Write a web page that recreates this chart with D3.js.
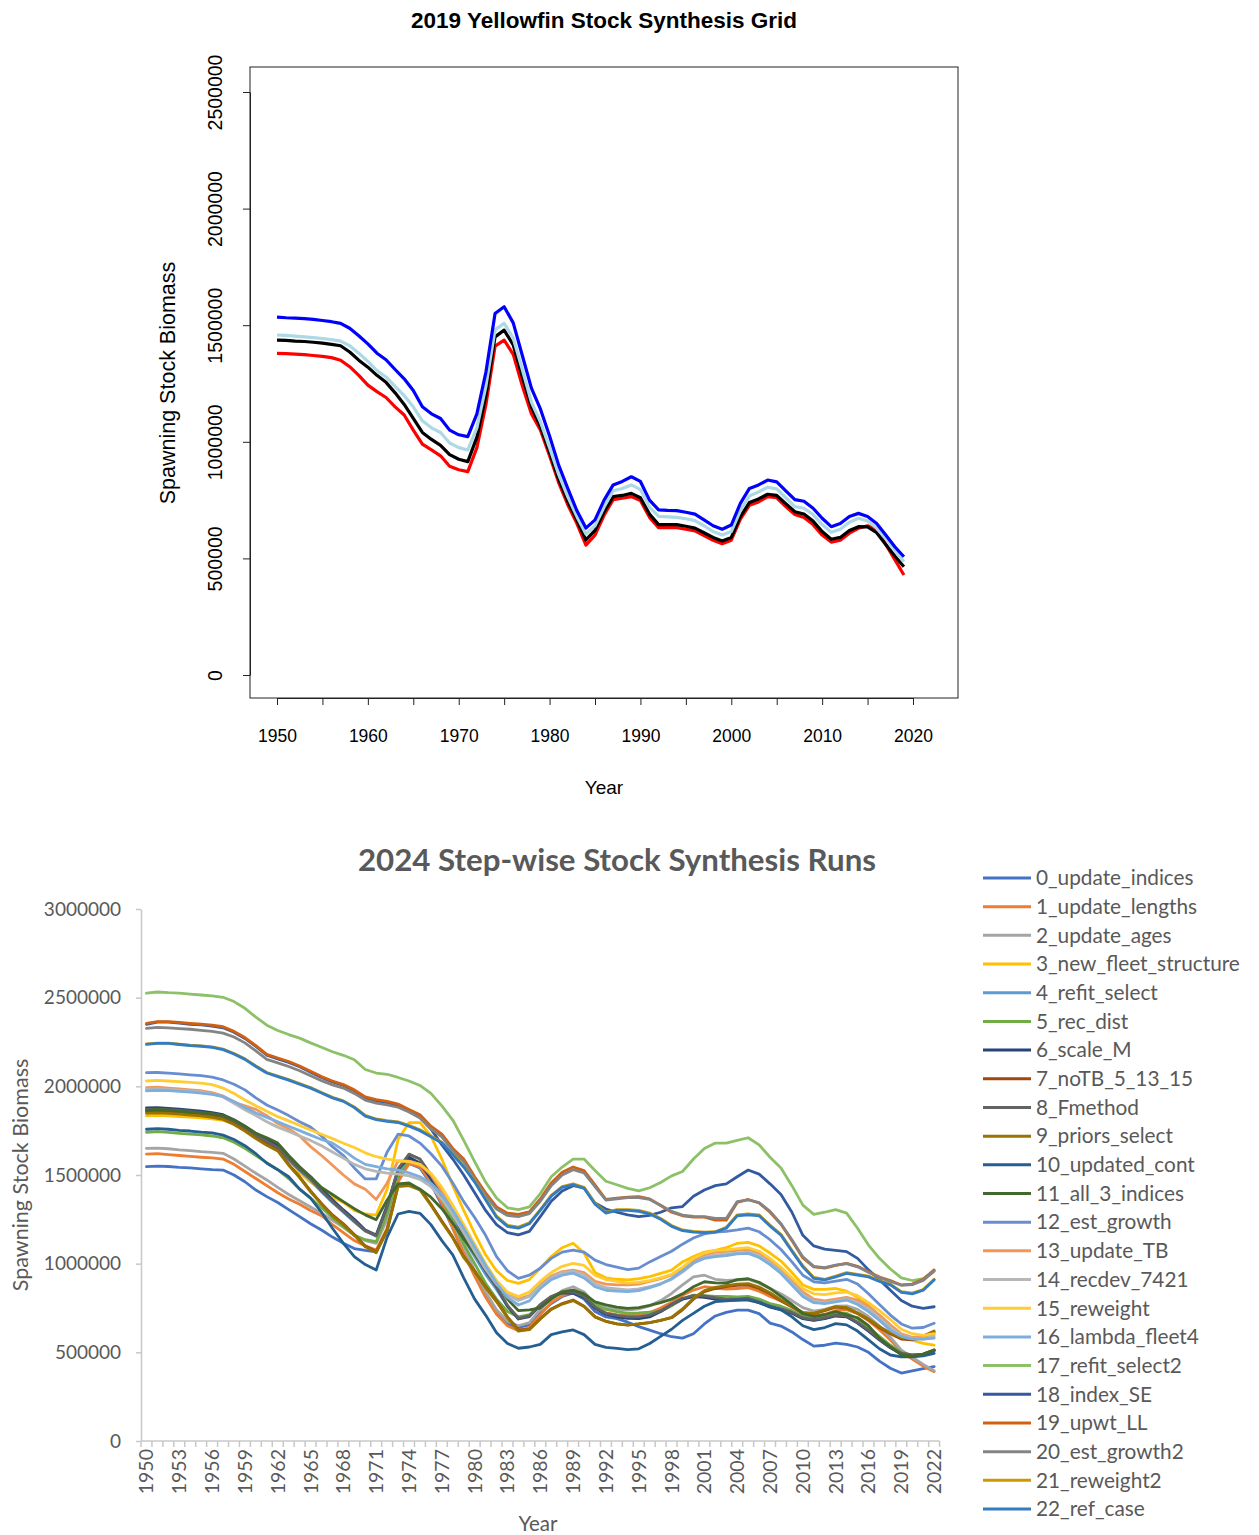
<!DOCTYPE html>
<html><head><meta charset="utf-8">
<script src="https://cdn.jsdelivr.net/npm/d3@7"></script>
<style>body{margin:0;background:#fff}svg{display:block}</style>
</head><body>
<svg id="c" width="1259" height="1535"></svg>
<script>
// ================= DATA =================
// --- 2019 grid (values in thousands), years 1950..2019
const topStartYear = 1950;
const grid2019_blue = [
1535,1532,1530,1528,1525,1520,1515,1508,1487,1455,
1420,1380,1352,1310,1270,1220,1150,1120,1100,1050,
1030,1022,1120,1300,1550,1579,1510,1370,1230,1140,
1025,900,800,705,630,665,750,815,830,850,
830,750,708,706,705,698,690,665,640,625,
643,736,800,815,836,828,790,752,745,715,
672,636,650,680,693,680,650,600,550,507];
const grid2019_lightblue = [
1458,1456,1453,1450,1447,1443,1438,1432,1412,1380,
1345,1305,1278,1238,1198,1150,1090,1060,1040,995,
975,965,1060,1240,1480,1508,1445,1310,1170,1085,
975,860,765,680,605,640,720,790,800,815,
795,720,680,678,676,670,662,640,615,600,
615,705,768,785,805,798,760,722,715,688,
645,612,625,655,672,660,630,585,535,486];
const grid2019_black = [
1436,1435,1432,1430,1427,1423,1418,1412,1385,1350,
1320,1285,1255,1210,1160,1100,1040,1010,985,945,
925,915,1020,1200,1450,1479,1415,1280,1150,1065,
955,840,745,665,579,620,700,765,770,779,
760,690,645,645,645,638,630,610,590,575,
590,680,740,755,775,770,735,700,690,660,
615,582,590,620,636,635,610,560,510,464];
const grid2019_red = [
1379,1378,1376,1374,1370,1366,1361,1350,1322,1285,
1243,1215,1190,1150,1115,1050,990,965,940,895,
880,872,975,1160,1410,1436,1375,1240,1120,1050,
940,825,730,650,557,600,685,752,758,765,
748,676,632,632,632,625,618,598,578,563,
578,668,728,742,765,760,722,688,675,645,
600,570,578,608,629,640,625,560,495,429];
const topYTicks = [0,500000,1000000,1500000,2000000,2500000];
const topXTicks = [1950,1955,1960,1965,1970,1975,1980,1985,1990,1995,2000,2005,2010,2015,2020];

// --- 2024 step-wise runs (values in thousands), years 1950..2022
const bottomYears = d3.range(1950, 2023);
const run0_update_indices = [
1547,1550,1548,1543,1540,1535,1530,1528,1500,1462,
1415,1378,1345,1305,1265,1225,1190,1150,1115,1085,
1075,1067,1190,1480,1565,1540,1450,1330,1200,1060,
940,820,720,660,640,655,720,775,815,835,
800,730,700,690,670,645,625,605,588,580,
605,660,705,725,738,738,718,665,648,615,
572,535,540,552,545,530,500,450,410,383,
395,408,419];
const run1_update_lengths = [
1618,1620,1615,1610,1605,1600,1596,1590,1560,1520,
1480,1440,1400,1365,1335,1300,1270,1220,1175,1130,
1100,1077,1200,1460,1565,1545,1460,1340,1200,1060,
930,810,715,650,622,640,712,780,820,842,
815,760,722,712,710,712,725,750,782,822,
851,870,862,856,860,865,845,815,790,760,
722,705,715,735,740,718,678,628,570,505,
462,422,391];
const run2_update_ages = [
1650,1652,1648,1642,1638,1632,1628,1622,1590,1550,
1510,1472,1430,1390,1355,1320,1284,1245,1205,1160,
1130,1115,1250,1510,1612,1590,1500,1380,1240,1100,
960,840,740,675,650,668,742,802,848,870,
840,775,752,742,738,745,762,792,832,880,
925,935,912,905,908,912,890,860,830,792,
752,732,742,760,762,742,702,648,585,512,
472,432,396];
const run3_new_fleet_structure = [
1833,1836,1834,1830,1826,1822,1816,1808,1790,1760,
1725,1690,1660,1590,1515,1460,1415,1375,1345,1300,
1280,1274,1420,1700,1795,1795,1720,1590,1440,1300,
1170,1050,960,905,889,910,974,1040,1090,1115,
1060,950,920,912,908,915,927,945,964,1010,
1040,1065,1075,1090,1115,1120,1100,1060,1015,950,
880,855,855,860,845,810,765,705,650,600,
568,550,541];
const run4_refit_select = [
1862,1865,1861,1856,1850,1845,1838,1826,1798,1762,
1718,1678,1650,1585,1525,1470,1405,1345,1290,1235,
1185,1155,1310,1515,1595,1570,1480,1365,1260,1140,
1040,940,855,760,695,705,765,812,838,838,
812,752,718,705,698,698,708,732,768,802,
818,815,806,798,798,802,782,758,742,722,
692,682,692,708,702,668,622,572,528,492,
482,488,510];
const run5_rec_dist = [
1741,1745,1740,1735,1730,1726,1720,1710,1685,1650,
1610,1570,1530,1480,1420,1370,1315,1260,1210,1160,
1135,1124,1280,1500,1590,1570,1485,1365,1240,1110,
1000,890,800,730,700,712,765,812,842,850,
825,770,742,730,720,722,726,730,762,800,
823,820,815,815,812,815,800,775,760,735,
705,690,700,720,720,690,640,590,540,500,
485,490,515];
const run6_scale_M = [
1878,1880,1876,1872,1866,1860,1852,1840,1812,1775,
1735,1700,1669,1600,1540,1490,1420,1360,1303,1250,
1190,1162,1330,1530,1600,1565,1480,1380,1284,1160,
1060,960,870,760,688,702,765,812,835,833,
810,750,715,700,692,690,700,730,770,800,
814,810,800,795,795,800,780,755,740,720,
690,680,690,705,700,665,620,570,525,490,
480,485,510];
const run7_noTB_5_13_15 = [
1855,1858,1855,1850,1845,1840,1832,1820,1792,1755,
1712,1675,1641,1560,1490,1410,1340,1275,1225,1165,
1100,1067,1190,1440,1444,1420,1335,1240,1150,1040,
960,870,790,700,626,630,690,745,775,795,
760,700,675,660,654,660,668,680,695,740,
800,842,860,870,878,880,860,830,790,755,
720,718,735,755,750,720,685,640,605,575,
570,585,612];
const run8_Fmethod = [
1870,1872,1868,1864,1858,1852,1845,1833,1805,1768,
1725,1690,1655,1590,1530,1478,1410,1350,1295,1240,
1185,1158,1320,1535,1618,1590,1500,1390,1290,1165,
1062,962,872,765,692,705,770,815,840,840,
815,755,720,708,700,700,710,735,770,805,
820,818,808,800,800,805,785,760,745,725,
695,685,695,710,705,670,625,575,530,495,
485,490,512];
const run9_priors_select = [
1848,1851,1848,1843,1838,1833,1825,1813,1785,1748,
1705,1668,1636,1555,1485,1405,1336,1270,1220,1160,
1095,1062,1185,1435,1440,1416,1330,1235,1145,1035,
955,865,785,695,620,628,688,742,772,792,
758,700,674,660,655,660,668,680,697,745,
805,848,866,876,885,888,868,836,796,760,
725,720,738,758,752,722,688,645,610,582,
578,592,620];
const run10_updated_cont = [
1758,1762,1758,1752,1748,1742,1738,1725,1700,1665,
1620,1566,1530,1490,1420,1370,1290,1200,1115,1040,
995,964,1150,1280,1295,1284,1220,1130,1050,920,
800,710,610,550,523,530,545,600,615,626,
600,545,528,522,515,520,550,590,630,680,
720,760,786,790,795,795,780,760,740,700,
650,628,640,662,655,620,570,520,485,475,
475,480,494];
const run11_all_3_indices = [
1865,1868,1865,1860,1855,1850,1845,1835,1810,1775,
1735,1710,1680,1610,1547,1490,1430,1390,1350,1310,
1275,1248,1359,1450,1455,1420,1375,1310,1228,1140,
1055,980,900,800,735,740,750,800,840,851,
830,785,768,755,748,752,765,780,800,830,
870,898,892,890,910,915,895,860,815,770,
718,702,712,729,712,695,650,580,532,485,
478,490,513];
const run12_est_growth = [
2077,2078,2075,2070,2065,2060,2052,2036,2012,1980,
1935,1895,1866,1835,1800,1770,1720,1660,1610,1540,
1478,1478,1630,1730,1720,1680,1620,1550,1455,1350,
1260,1160,1040,960,917,935,975,1030,1065,1077,
1065,1020,995,980,966,975,1010,1040,1070,1110,
1145,1168,1178,1182,1190,1200,1180,1135,1080,1010,
935,898,892,902,912,885,830,770,710,660,
636,640,664];
const run13_update_TB = [
1992,1995,1990,1985,1980,1975,1965,1945,1910,1890,
1870,1835,1790,1760,1720,1660,1610,1555,1500,1450,
1420,1362,1455,1580,1578,1560,1500,1410,1300,1190,
1080,980,890,830,800,820,880,930,955,964,
950,900,885,880,880,885,900,915,935,975,
1020,1050,1065,1070,1075,1080,1060,1020,970,905,
840,800,790,800,810,795,760,710,655,605,
585,585,600];
const run14_recdev_7421 = [
1984,1987,1983,1978,1973,1968,1958,1940,1905,1868,
1835,1800,1770,1745,1720,1695,1665,1630,1595,1560,
1535,1520,1510,1505,1495,1475,1435,1365,1275,1175,
1070,970,885,825,792,815,872,922,950,958,
938,885,865,858,852,858,870,888,912,952,
1002,1035,1050,1055,1060,1065,1045,1005,955,890,
825,790,780,790,800,780,745,695,640,595,
580,575,590];
const run15_reweight = [
2030,2034,2030,2026,2022,2018,2010,1990,1960,1923,
1890,1860,1829,1805,1780,1754,1730,1705,1679,1655,
1625,1603,1590,1580,1575,1560,1510,1430,1330,1220,
1110,1000,905,840,814,840,900,950,985,1002,
990,935,910,900,890,895,905,920,940,980,
1030,1060,1075,1078,1085,1090,1070,1030,980,920,
860,830,825,835,840,820,780,735,685,630,
605,595,605];
const run16_lambda_fleet4 = [
1974,1978,1976,1972,1968,1962,1955,1943,1915,1880,
1850,1825,1800,1775,1750,1725,1700,1680,1640,1595,
1560,1547,1535,1528,1512,1490,1453,1390,1300,1200,
1095,990,890,810,767,790,860,910,935,946,
920,870,850,845,842,848,865,885,915,960,
1005,1030,1040,1045,1055,1058,1035,995,945,880,
815,780,775,785,795,770,730,680,625,590,
575,575,580];
const run17_refit_select2 = [
2525,2532,2528,2526,2520,2515,2510,2502,2478,2440,
2390,2345,2315,2292,2272,2245,2220,2195,2175,2150,
2095,2075,2068,2050,2030,2005,1960,1890,1810,1695,
1575,1460,1370,1315,1305,1320,1395,1490,1545,1590,
1590,1525,1465,1445,1425,1410,1428,1458,1495,1520,
1590,1650,1680,1680,1695,1710,1670,1600,1540,1440,
1330,1278,1290,1305,1285,1200,1105,1030,970,920,
905,915,960];
const run18_index_SE = [
2350,2362,2362,2356,2350,2346,2340,2330,2305,2270,
2225,2176,2155,2135,2110,2080,2050,2025,2005,1975,
1935,1918,1908,1892,1860,1825,1760,1670,1590,1500,
1400,1300,1220,1175,1162,1182,1265,1352,1410,1440,
1428,1342,1308,1290,1275,1265,1272,1290,1315,1322,
1380,1415,1440,1450,1490,1528,1505,1450,1390,1290,
1160,1100,1082,1075,1068,1030,965,910,850,792,
760,748,757];
const run19_upwt_LL = [
2355,2365,2365,2360,2355,2350,2345,2336,2310,2275,
2230,2180,2160,2140,2115,2085,2055,2030,2010,1980,
1940,1925,1915,1900,1870,1840,1775,1730,1650,1590,
1490,1400,1320,1285,1278,1292,1365,1455,1515,1545,
1525,1445,1362,1370,1375,1378,1365,1328,1290,1270,
1262,1262,1245,1245,1345,1362,1342,1290,1222,1130,
1032,982,975,990,1002,985,955,925,905,880,
885,912,965];
const run20_est_growth2 = [
2327,2332,2330,2326,2322,2316,2310,2300,2278,2245,
2200,2152,2132,2112,2088,2060,2032,2008,1990,1960,
1922,1905,1896,1882,1855,1822,1760,1715,1636,1575,
1475,1385,1308,1272,1265,1282,1352,1440,1500,1530,
1512,1435,1358,1366,1372,1372,1362,1330,1295,1274,
1266,1265,1255,1255,1350,1360,1345,1295,1225,1135,
1038,985,978,992,1000,982,952,922,900,878,
882,906,958];
const run21_reweight2 = [
2240,2244,2244,2238,2232,2228,2222,2210,2185,2155,
2115,2078,2058,2038,2015,1993,1965,1938,1918,1884,
1836,1816,1806,1800,1780,1755,1720,1685,1620,1550,
1466,1366,1268,1216,1206,1230,1305,1385,1435,1450,
1430,1340,1290,1305,1305,1300,1285,1255,1215,1190,
1182,1178,1180,1205,1275,1280,1275,1218,1166,1076,
988,922,912,930,950,940,930,905,885,842,
834,854,912];
const run22_ref_case = [
2237,2242,2242,2236,2230,2226,2220,2207,2182,2152,
2112,2075,2055,2035,2012,1990,1962,1935,1915,1880,
1832,1812,1802,1796,1775,1750,1715,1680,1615,1545,
1460,1360,1262,1210,1200,1225,1300,1380,1430,1445,
1425,1335,1285,1300,1300,1295,1280,1250,1210,1186,
1178,1175,1178,1200,1270,1275,1270,1212,1160,1070,
982,917,908,925,945,935,925,900,880,838,
830,850,908];

const runNames = ["0_update_indices","1_update_lengths","2_update_ages","3_new_fleet_structure",
"4_refit_select","5_rec_dist","6_scale_M","7_noTB_5_13_15","8_Fmethod","9_priors_select",
"10_updated_cont","11_all_3_indices","12_est_growth","13_update_TB","14_recdev_7421",
"15_reweight","16_lambda_fleet4","17_refit_select2","18_index_SE","19_upwt_LL",
"20_est_growth2","21_reweight2","22_ref_case"];
const runColors = ["#4472C4","#ED7D31","#A5A5A5","#FFC000","#5B9BD5","#70AD47","#264478",
"#9E480E","#636363","#997300","#255E91","#43682B","#698ED0","#F1975A","#B7B7B7","#FFCD33",
"#7CAFDD","#8CC168","#335AA1","#D26012","#848484","#CC9A00","#327DC2"];
const runValues = [run0_update_indices,run1_update_lengths,run2_update_ages,run3_new_fleet_structure,
run4_refit_select,run5_rec_dist,run6_scale_M,run7_noTB_5_13_15,run8_Fmethod,run9_priors_select,
run10_updated_cont,run11_all_3_indices,run12_est_growth,run13_update_TB,run14_recdev_7421,
run15_reweight,run16_lambda_fleet4,run17_refit_select2,run18_index_SE,run19_upwt_LL,
run20_est_growth2,run21_reweight2,run22_ref_case];
const bottomYTicks = [0,500000,1000000,1500000,2000000,2500000,3000000];
const bottomXLabelYears = d3.range(1950, 2023, 3);

// ================= TOP CHART (R style) =================
const svgRoot = d3.select("#c");
const RFONT = "'Liberation Sans', Arial, sans-serif";
const gTop = svgRoot.append("g");
const xT = d3.scaleLinear().domain([1950, 2020]).range([277, 913]);
const yT = d3.scaleLinear().domain([0, 2500000]).range([675, 92]);

gTop.append("text").attr("x", 604).attr("y", 28).attr("text-anchor","middle")
  .attr("font-family", RFONT).attr("font-weight","bold").attr("font-size", 22.5).attr("fill","#000")
  .text("2019 Yellowfin Stock Synthesis Grid");

const gxT = gTop.append("g").attr("transform","translate(0,698)")
  .call(d3.axisBottom(xT).tickValues(topXTicks).tickSize(7).tickSizeOuter(0).tickPadding(25)
    .tickFormat(d => d % 10 === 0 ? String(d) : ""));
gxT.selectAll("text").attr("font-family", RFONT).attr("font-size", 17.5).attr("fill","#000");
gxT.selectAll("line,path").attr("stroke","#222");

const gyT = gTop.append("g").attr("transform","translate(250,0)")
  .call(d3.axisLeft(yT).tickValues(topYTicks).tickSize(7).tickSizeOuter(0).tickFormat(d3.format("d")));
gyT.selectAll("text").attr("x", null).attr("dy", null).attr("text-anchor","middle")
  .attr("transform","translate(-28,0) rotate(-90)")
  .attr("font-family", RFONT).attr("font-size", 19.5).attr("fill","#000");
gyT.selectAll("line,path").attr("stroke","#222");

gTop.append("rect").attr("x",250).attr("y",67).attr("width",708).attr("height",631)
  .attr("fill","none").attr("stroke","#222").attr("stroke-width",1);

gTop.append("text").attr("x",604).attr("y",794).attr("text-anchor","middle")
  .attr("font-family", RFONT).attr("font-size", 19).attr("fill","#000").text("Year");
gTop.append("text").attr("transform","translate(175,383) rotate(-90)").attr("text-anchor","middle")
  .attr("font-family", RFONT).attr("font-size", 21.5).attr("fill","#000").text("Spawning Stock Biomass");

const topSeries = [
  {v: grid2019_red, c: "#FF0000"},
  {v: grid2019_black, c: "#000000"},
  {v: grid2019_lightblue, c: "#ADD8E6"},
  {v: grid2019_blue, c: "#0000FF"}
];
const lineT = d3.line().x((d,i) => xT(topStartYear + i)).y(d => yT(d * 1000));
gTop.selectAll("path.ts").data(topSeries).enter().append("path").attr("class","ts")
  .attr("d", d => lineT(d.v)).attr("fill","none").attr("stroke", d => d.c)
  .attr("stroke-width", 3.2).attr("stroke-linejoin","round");

// ================= BOTTOM CHART (Excel style) =================
const XFONT = "Lato, 'Open Sans', sans-serif";
const GREY = "#595959";
const gBot = svgRoot.append("g");
const xB = d3.scaleBand().domain(bottomYears).range([141, 939.6]).padding(0);
const cx = yr => xB(yr) + xB.bandwidth() / 2;
const yB = d3.scaleLinear().domain([0, 3000000]).range([1441, 909]);

gBot.append("text").attr("x", 617).attr("y", 871).attr("text-anchor","middle")
  .attr("font-family", XFONT).attr("font-weight","bold").attr("font-size", 30).attr("fill", GREY)
  .attr("textLength", 518).attr("lengthAdjust","spacingAndGlyphs")
  .text("2024 Step-wise Stock Synthesis Runs");

const gyB = gBot.append("g").attr("transform","translate(141,0)")
  .call(d3.axisLeft(yB).tickValues(bottomYTicks).tickSize(5).tickSizeOuter(0).tickPadding(15).tickFormat(d3.format("d")));
gyB.selectAll("line,path").attr("stroke","#C8C8C8").attr("stroke-width",1.5);
gyB.selectAll("text").attr("font-family", XFONT).attr("font-size", 19).attr("fill", GREY);

const gxB = gBot.append("g").attr("transform","translate(0,1441)");
gxB.append("line").attr("x1",141).attr("x2",939.6).attr("y1",0).attr("y2",0)
  .attr("stroke","#C8C8C8").attr("stroke-width",1.5);
gxB.selectAll("line.tk").data(bottomYears.concat([2023])).enter().append("line").attr("class","tk")
  .attr("x1", d => d === 2023 ? 939.6 : xB(d)).attr("x2", d => d === 2023 ? 939.6 : xB(d))
  .attr("y1",0).attr("y2",6).attr("stroke","#C8C8C8").attr("stroke-width",1.5);
gxB.selectAll("text").data(bottomXLabelYears).enter().append("text")
  .attr("transform", d => `translate(${cx(d) + 7},8) rotate(-90)`)
  .attr("text-anchor","end").attr("font-family", XFONT).attr("font-size", 19.5).attr("fill", GREY)
  .text(d => d);

gBot.append("text").attr("x",538).attr("y",1531).attr("text-anchor","middle")
  .attr("font-family", XFONT).attr("font-size", 20.5).attr("fill", GREY).text("Year");
gBot.append("text").attr("transform","translate(28,1175) rotate(-90)").attr("text-anchor","middle")
  .attr("font-family", XFONT).attr("font-size", 21.5).attr("fill", GREY).text("Spawning Stock Biomass");

const runs = runNames.map((n, i) => ({name: n, color: runColors[i], values: runValues[i]}));
const lineB = d3.line().x((d,i) => cx(bottomYears[i])).y(d => yB(d * 1000));
gBot.selectAll("path.run").data(runs).enter().append("path").attr("class","run")
  .attr("d", d => lineB(d.values)).attr("fill","none").attr("stroke", d => d.color)
  .attr("stroke-width", 2.8).attr("stroke-linejoin","round").attr("stroke-linecap","round");

const leg = gBot.append("g");
const legStep = (1509 - 878) / 22;
const li = leg.selectAll("g").data(runs).enter().append("g")
  .attr("transform", (d,i) => `translate(0,${878 + i * legStep})`);
li.append("line").attr("x1",983).attr("x2",1031).attr("y1",0).attr("y2",0)
  .attr("stroke", d => d.color).attr("stroke-width", 3);
li.append("text").attr("x",1036).attr("y",0).attr("dy","0.35em")
  .attr("font-family", XFONT).attr("font-size", 20.8).attr("fill", GREY).text(d => d.name);
</script>
</body></html>
